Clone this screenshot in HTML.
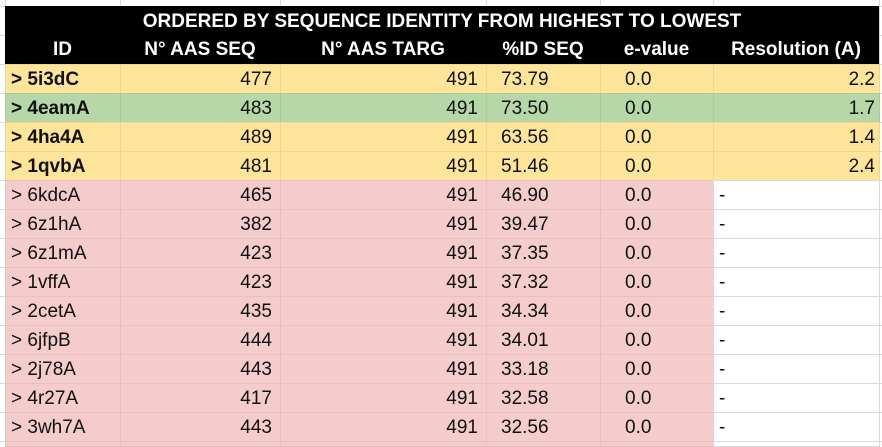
<!DOCTYPE html>
<html><head><meta charset="utf-8"><style>
html,body{margin:0;width:882px;height:447px;overflow:hidden;background:#fff;font-family:"Liberation Sans",Carlito,sans-serif;}
#wrap{position:absolute;left:0;top:0;width:882px;height:447px;overflow:hidden;}
.c{position:absolute;box-sizing:border-box;font-size:19px;line-height:29px;height:29px;white-space:nowrap;overflow:hidden;color:#111;}
.hdr{color:#fff;font-weight:bold;text-align:center;}
</style></head><body>
<div id="wrap"></div>
<script>
const ids=['> 5i3dC','> 4eamA','> 4ha4A','> 1qvbA','> 6kdcA','> 6z1hA','> 6z1mA','> 1vffA','> 2cetA','> 6jfpB','> 2j78A','> 4r27A','> 3wh7A',''];
const seqLen=[477,483,489,481,465,382,423,423,435,444,443,417,443,''];
const targLen=[491,491,491,491,491,491,491,491,491,491,491,491,491,''];
const pid=['73.79','73.50','63.56','51.46','46.90','39.47','37.35','37.32','34.34','34.01','33.18','32.58','32.56',''];
const evals=['0.0','0.0','0.0','0.0','0.0','0.0','0.0','0.0','0.0','0.0','0.0','0.0','0.0',''];
const res=['2.2','1.7','1.4','2.4','-','-','-','-','-','-','-','-','-',''];
const colX=[5,120,280,486,600,713,879];
const W=document.getElementById('wrap');
function cell(x,y,w,h,txt,cls,bg,border,align,pad,name){
  const d=document.createElement('div');
  d.className='c '+(cls||'');
  d.style.left=x+'px';d.style.top=y+'px';d.style.width=w+'px';d.style.height=h+'px';
  if(bg)d.style.background=bg;
  if(border)d.style.border='1px solid '+border;
  if(align)d.style.textAlign=align;
  if(pad)d.style.padding=pad;
  d.textContent=txt;
  
  
  W.appendChild(d);return d;
}
for(let i=0;i<=15;i++){const g=document.createElement('div');g.style.cssText='position:absolute;left:0;width:882px;height:1px;background:#d9d9d9;top:'+(6+i*29)+'px';W.appendChild(g);}
[5,120,280,486,600,713,879].forEach(x=>{const g=document.createElement('div');g.style.cssText='position:absolute;top:0;width:1px;height:447px;background:#d9d9d9;left:'+x+'px';W.appendChild(g);});
const t=cell(5,6,874,29,'ORDERED BY SEQUENCE IDENTITY FROM HIGHEST TO LOWEST','hdr','#000',null,'center',null,'table-title');
t.style.lineHeight='31px';
const heads=['ID','N° AAS SEQ','N° AAS TARG','%ID SEQ','e-value','Resolution (A)'];
heads.forEach((h,i)=>{const c=cell(colX[i],35,colX[i+1]-colX[i],29,h,'hdr','#000',null,'center',null,'column-header');c.style.lineHeight='30px';});
for(let r=0;r<ids.length;r++){
  const y=64+r*29;
  const h=Math.min(30,447-y);
  let bg,bd;
  if(r==1){bg='#b6d7a8';bd='#a9cc9b';}else if(r<4){bg='#ffe599';bd='#f2d68a';}else{bg='#f4cccc';bd='#e8c0c0';}
  const rowBg=[bg,bg,bg,bg,bg,r<4?bg:'#fff'];
  const vals=[ids[r],seqLen[r],targLen[r],pid[r],evals[r],res[r]];
  const al=['left','right','right','left','left',r<4?'right':'left'];
  const pads=['0 0 0 5px','0 8px 0 0','0 8px 0 0','0 0 0 14px','0 0 0 24px',r<4?'0 4px 0 0':'0 0 0 5px'];
  vals.forEach((v,i)=>{
    const c=cell(colX[i],y,colX[i+1]-colX[i]+1,h,String(v),'',rowBg[i],rowBg[i]=='#fff'?'#d9d9d9':bd,al[i],pads[i],'cell-'+['id','seq-len','targ-len','pct-id','evalue','resolution'][i]);
    c.style.lineHeight='29px';
    if(i==0&&r<4)c.style.fontWeight='bold';
  });
}
</script>
</body></html>
